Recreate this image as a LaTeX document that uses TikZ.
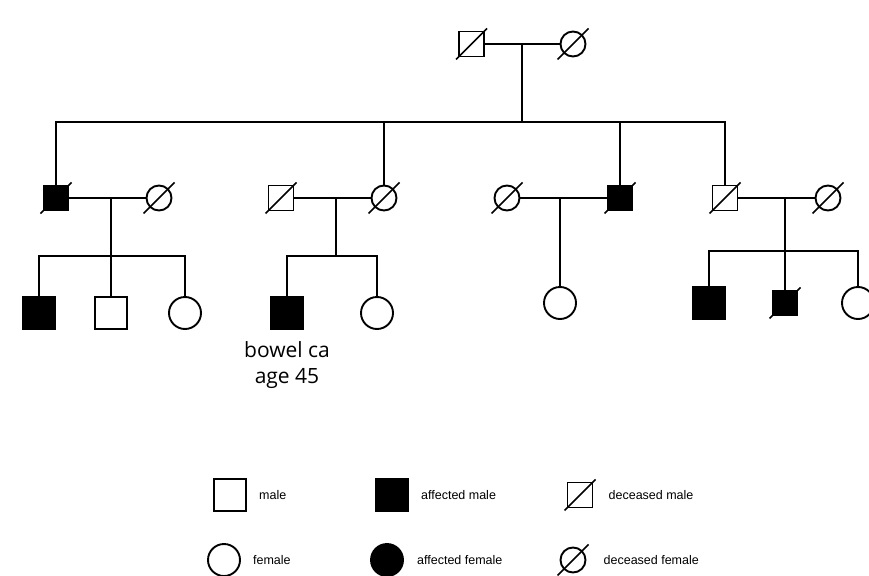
\documentclass[tikz,border=0pt]{standalone}
\usepackage{fontspec}
\setmainfont{Liberation Sans}
\newfontfamily\opensans{Open Sans}
\usetikzlibrary{calc,positioning}

\begin{document}
\begin{tikzpicture}[
x=1pt, y=-1pt,
male/.style={
	draw, rectangle, line width=1.9pt,
	minimum size=25pt, inner sep=0pt, fill=white
},
female/.style={
	draw, circle, line width=1.9pt,
	minimum size=25pt, inner sep=0pt, fill=white
},
big/.style={minimum size=32pt},
affected/.style={fill=black},
key/.style={inner sep=0pt, font=\fontsize{12.5}{15}\selectfont},
slash/.style={line width=1.6pt},
link/.style={line width=1.4pt}
]
\useasboundingbox (0,0) rectangle (869,575);

% generation 1
\node[male] (g1) at (471.5,44) {};
\node[female] (g2) at (573,44) {};

% generation 2
\node[male,affected] (p1) at (56,198) {};
\node[female] (p2) at (159,198) {};
\node[male] (p3) at (281,198) {};
\node[female] (p4) at (384,198) {};
\node[female] (p5) at (507,198) {};
\node[male,affected] (p6) at (620,198) {};
\node[male] (p7) at (725,198) {};
\node[female] (p8) at (828,198) {};

% generation 3
\node[male,big,affected] (c1) at (39,313) {};
\node[male,big] (c2) at (111,313) {};
\node[female,big] (c3) at (185,313) {};
\node[male,big,affected] (c4) at (287,313) {};
\node[female,big] (c5) at (377,313) {};
\node[female,big] (c6) at (560,303) {};
\node[male,big,affected] (c7) at (709,303) {};
\node[male,affected] (c8) at (785,303) {};
\node[female,big] (c9) at (858,303) {};

\node[below=11pt of c4, align=center, inner sep=0pt,
	font=\opensans\fontsize{21}{26}\selectfont] (note) {bowel ca\\age 45};

% deceased
\foreach \n in {g1,g2,p1,p2,p3,p4,p5,p6,p7,p8,c8}
	\draw[slash] ($(\n)+(-15.5,15.5)$) -- ($(\n)+(15.5,-15.5)$);

% marriages
\coordinate (m0) at (522,44);
\coordinate (m1) at (111,198);
\coordinate (m2) at (336,198);
\coordinate (m3) at (560,198);
\coordinate (m4) at (785,198);
\draw[link] (g1) -- (g2);
\draw[link] (p1) -- (p2);
\draw[link] (p3) -- (p4);
\draw[link] (p5) -- (p6);
\draw[link] (p7) -- (p8);

% sibships
\coordinate (f0) at (522,122);
\coordinate (f1) at (111,256);
\coordinate (f2) at (336,256);
\coordinate (f4) at (785,251);
\draw[link] (m0) -- (f0);
\draw[link] (p1.north) |- (f0) -| (p7.north);
\draw[link] (p4.north) -- (p4.north |- f0);
\draw[link] (p6.north) -- (p6.north |- f0);

\draw[link] (m1) -- (f1);
\draw[link] (c1.north) |- (f1) -| (c3.north);
\draw[link] (c2.north) -- (f1);

\draw[link] (m2) -- (f2);
\draw[link] (c4.north) |- (f2) -| (c5.north);

\draw[link] (m3) -- (c6.north);

\draw[link] (m4) -- (f4);
\draw[link] (c7.north) |- (f4) -| (c9.north);
\draw[link] (c8.north) -- (f4);

% key
\node[male,big] (k1) at (230,495) {};
\node[male,big,affected] (k2) at (392,495) {};
\node[male] (k3) at (580,495) {};
\node[female,big] (k4) at (224,560) {};
\node[female,big,affected] (k5) at (387,560) {};
\node[female] (k6) at (573,560) {};
\foreach \n in {k3,k6}
	\draw[slash] ($(\n)+(-15.5,15.5)$) -- ($(\n)+(15.5,-15.5)$);
\node[key, right=12pt of k1] (t1) {male};
\node[key, right=12pt of k2] (t2) {affected male};
\node[key, right=15pt of k3] (t3) {deceased male};
\node[key, right=12pt of k4] (t4) {female};
\node[key, right=13pt of k5] (t5) {affected female};
\node[key, right=17pt of k6] (t6) {deceased female};
\end{tikzpicture}
\end{document}
